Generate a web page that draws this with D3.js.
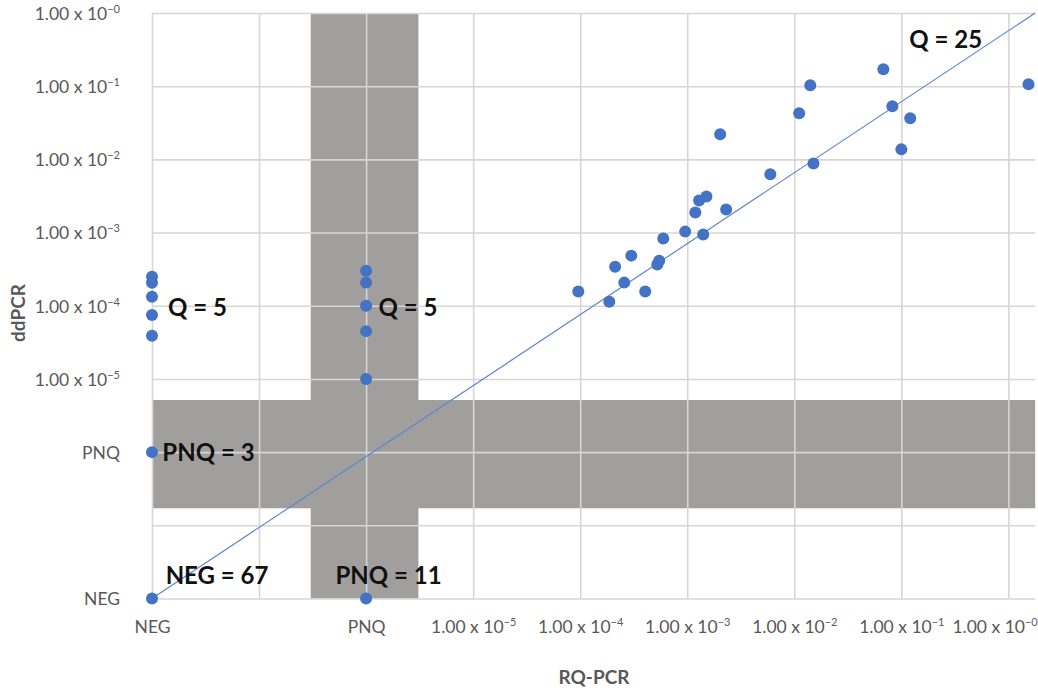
<!DOCTYPE html>
<html>
<head>
<meta charset="utf-8">
<script src="https://cdn.jsdelivr.net/npm/d3@7"></script>
<style>
  body { margin: 0; background: #fff; }
  svg { display: block; }
  text { font-family: Lato, "Open Sans", sans-serif; }
</style>
</head>
<body>
<svg id="chart" width="1038" height="688"></svg>
<script>
// Placeholder positions on the log axes for the two non-quantified categories
const categories = ["NEG", "PNQ"];
const categoryValues = [1e-8, 1e-6];

// Tick positions (powers of ten) shared by both axes; 10^-7 carries no label
const tickExponents = [-8, -7, -6, -5, -4, -3, -2, -1, 0];
const tickNames = ["NEG", "", "PNQ", null, null, null, null, null, null];
const tickSuperscripts = ["", "", "", "−5", "−4", "−3", "−2", "−1", "−0"];

// Axis extents
const xDomain = [1e-8, 1.78];
const yDomain = [1e-8, 1];

// Samples quantified by both methods (Q = 25)
const rqValues = [9.6e-5, 1.87e-4, 2.12e-4, 2.58e-4, 3.0e-4, 4.05e-4, 5.25e-4, 5.47e-4,
                  5.97e-4, 9.57e-4, 1.19e-3, 1.29e-3, 1.51e-3, 1.41e-3, 2.31e-3, 2.03e-3,
                  5.97e-3, 1.51e-2, 1.11e-2, 1.41e-2, 6.79e-2, 8.24e-2, 0.121, 0.1, 1.54];
const ddValues = [1.56e-4, 1.13e-4, 3.42e-4, 2.07e-4, 4.84e-4, 1.56e-4, 3.65e-4, 4.13e-4,
                  8.28e-4, 1.03e-3, 1.88e-3, 2.74e-3, 3.11e-3, 9.4e-4, 2.07e-3, 2.2e-2,
                  6.24e-3, 8.8e-3, 4.27e-2, 0.103, 0.171, 5.32e-2, 3.65e-2, 1.37e-2, 0.106];

// RQ-PCR negative, ddPCR quantified (Q = 5)
const negRqDdValues = [2.5e-4, 2.06e-4, 1.33e-4, 7.5e-5, 3.9e-5];
// RQ-PCR positive not quantifiable, ddPCR quantified (Q = 5)
const pnqRqDdValues = [3.0e-4, 2.07e-4, 1.0e-4, 4.5e-5, 1.0e-5];
// Category-only combinations: [RQ-PCR, ddPCR]
const categoryPairs = [["NEG", "NEG"], ["NEG", "PNQ"], ["PNQ", "NEG"]];

// Shaded PNQ ranges
const pnqBandX = [3.04e-7, 3.08e-6];
const pnqBandY = [1.71e-7, 5.15e-6];

// Group counts, placed in data coordinates
const annotationTexts = ["Q = 25", "Q = 5", "Q = 5", "PNQ = 3", "NEG = 67", "PNQ = 11"];
const annotationX = [0.26, 2.66e-8, 2.46e-6, 3.37e-8, 4.05e-8, 1.62e-6];
const annotationY = [0.43, 9.6e-5, 9.6e-5, 1e-6, 2.1e-8, 2.1e-8];

const catValue = name => categoryValues[categories.indexOf(name)];

const svg = d3.select("#chart");
const mLeft = 152, mTop = 13, mRight = 1035.2, mBottom = 598.5;
const width = mRight - mLeft, height = mBottom - mTop;

const x = d3.scaleLog().domain(xDomain).range([0, width]);
const y = d3.scaleLog().domain(yDomain).range([height, 0]);

const g = svg.append("g").attr("transform", `translate(${mLeft},${mTop})`);

// Shaded bands
const bandColor = "#a09f9e";
g.append("rect")
  .attr("x", x(pnqBandX[0])).attr("y", 0)
  .attr("width", x(pnqBandX[1]) - x(pnqBandX[0])).attr("height", height)
  .attr("fill", bandColor);
g.append("rect")
  .attr("x", 0).attr("y", y(pnqBandY[1]))
  .attr("width", width).attr("height", y(pnqBandY[0]) - y(pnqBandY[1]))
  .attr("fill", bandColor);

const tickValues = tickExponents.map(e => Math.pow(10, e));

function labelTicks(sel) {
  sel.each(function (d, i) {
    const t = d3.select(this);
    t.text(null);
    if (tickNames[i] !== null) {
      t.text(tickNames[i]);
    } else {
      t.append("tspan").text("1.00 x 10");
      t.append("tspan").attr("font-size", 11).attr("dy", -7).text(tickSuperscripts[i]);
    }
  });
}

// X axis with vertical gridlines
const xAxis = g.append("g")
  .attr("transform", `translate(0,${height})`)
  .call(d3.axisBottom(x).tickValues(tickValues).tickSizeInner(-height).tickSizeOuter(0).tickFormat(() => ""));
xAxis.select(".domain").remove();
xAxis.selectAll(".tick line").attr("stroke", "#d6d6d6").attr("stroke-width", 1.6);
xAxis.selectAll(".tick text")
  .attr("y", 34).attr("dy", null)
  .attr("fill", "#595959").attr("font-size", 17.5)
  .call(labelTicks);
// Keep the last label inside the plot's right edge
xAxis.selectAll(".tick text")
  .filter((d, i, nodes) => i === nodes.length - 1)
  .attr("text-anchor", "end")
  .attr("x", d => width - x(d) + 2);

// Y axis with horizontal gridlines
const yAxis = g.append("g")
  .call(d3.axisLeft(y).tickValues(tickValues).tickSizeInner(-width).tickSizeOuter(0).tickFormat(() => ""));
yAxis.select(".domain").remove();
yAxis.selectAll(".tick line").attr("stroke", "#d6d6d6").attr("stroke-width", 1.6);
yAxis.selectAll(".tick text")
  .attr("x", -32).attr("dy", "0.36em")
  .attr("text-anchor", "end")
  .attr("fill", "#595959").attr("font-size", 17.5)
  .call(labelTicks);

// Reference diagonal from the NEG/NEG corner to the top-right corner
g.append("path")
  .datum([[xDomain[0], yDomain[0]], [xDomain[1], yDomain[1]]])
  .attr("d", d3.line().x(d => x(d[0])).y(d => y(d[1])))
  .attr("fill", "none").attr("stroke", "#5f86cc").attr("stroke-width", 1.2);

// Points
const points = [];
rqValues.forEach((v, i) => points.push([v, ddValues[i]]));
negRqDdValues.forEach(v => points.push([catValue("NEG"), v]));
pnqRqDdValues.forEach(v => points.push([catValue("PNQ"), v]));
categoryPairs.forEach(p => points.push([catValue(p[0]), catValue(p[1])]));

g.append("g").selectAll("circle")
  .data(points)
  .join("circle")
  .attr("cx", d => x(d[0]))
  .attr("cy", d => y(d[1]))
  .attr("r", 6)
  .attr("fill", "#4472c4");

// Group counts
g.append("g").selectAll("text")
  .data(annotationTexts)
  .join("text")
  .attr("x", (d, i) => x(annotationX[i]))
  .attr("y", (d, i) => y(annotationY[i]))
  .attr("dy", "0.36em")
  .attr("text-anchor", "middle")
  .attr("font-size", 24).attr("font-weight", 700)
  .attr("fill", "#111")
  .text(d => d);

// Axis titles
svg.append("text")
  .attr("x", 594).attr("y", 684)
  .attr("text-anchor", "middle")
  .attr("font-size", 19).attr("font-weight", 700).attr("fill", "#595959")
  .text("RQ-PCR");
svg.append("text")
  .attr("transform", "translate(25,313) rotate(-90)")
  .attr("text-anchor", "middle")
  .attr("font-size", 19).attr("font-weight", 700).attr("fill", "#595959")
  .text("ddPCR");
</script>
</body>
</html>
